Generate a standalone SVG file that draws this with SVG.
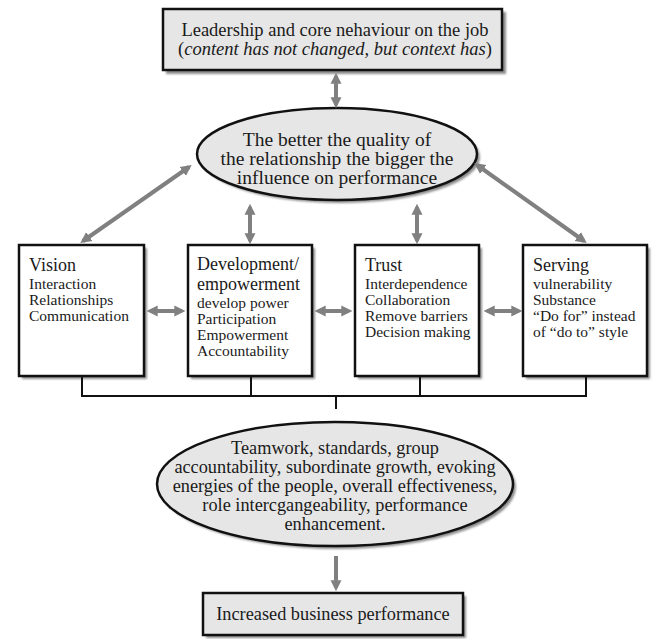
<svg xmlns="http://www.w3.org/2000/svg" width="654" height="639" viewBox="0 0 654 639">
<style>
text{font-family:"Liberation Serif","Times New Roman",serif;fill:#1a1a1a}
.box{fill:#fff;stroke:#111;stroke-width:2.5}
.gbox{fill:#e6e6e6;stroke:#111;stroke-width:2.5}
.shd{fill:#8c8c8c;filter:url(#blur)}
.arr{stroke:#808080;stroke-width:4;fill:none;marker-end:url(#ah);marker-start:url(#ah)}
.arr1{stroke:#808080;stroke-width:4;fill:none;marker-end:url(#ah)}
.brk{stroke:#111;stroke-width:2;fill:none}
.hd{font-size:18px}
.bd{font-size:15.5px}
.c{text-anchor:middle}
</style>
<defs>
<filter id="blur" x="-10%" y="-10%" width="120%" height="120%"><feGaussianBlur stdDeviation="1"/></filter>
<marker id="ah" viewBox="0 0 10 10" refX="7" refY="5" markerWidth="11" markerHeight="12" markerUnits="userSpaceOnUse" orient="auto-start-reverse">
<path d="M0,0 L10,5 L0,10 z" fill="#808080"/>
</marker>
</defs>

<g id="top-box">
<rect class="shd" x="166" y="12" width="340" height="62"/>
<rect class="gbox" x="163" y="9" width="339" height="61"/>
<text class="c" x="335" y="36" font-size="18.5">Leadership and core nehaviour on the job</text>
<text class="c" x="335" y="55" font-size="18.5">(<tspan font-style="italic">content has not changed, but context has</tspan>)</text>
</g>

<g id="quality-ellipse">
<ellipse class="shd" cx="340" cy="157" rx="140" ry="46"/>
<ellipse cx="337" cy="154" rx="140" ry="46" fill="#e6e6e6" stroke="#111" stroke-width="2.5"/>
<text class="c" x="337" y="146" font-size="19.5">The better the quality of</text>
<text class="c" x="337" y="165" font-size="19.5">the relationship the bigger the</text>
<text class="c" x="337" y="184" font-size="19.5">influence on performance</text>
</g>

<g id="vision">
<rect class="shd" x="22" y="248" width="125" height="131"/>
<rect class="box" x="19" y="245" width="125" height="131"/>
<text class="hd" x="29" y="271">Vision</text>
<text class="bd" x="29" y="289">Interaction</text>
<text class="bd" x="29" y="305">Relationships</text>
<text class="bd" x="29" y="321">Communication</text>
</g>

<g id="development">
<rect class="shd" x="191" y="248" width="124" height="131"/>
<rect class="box" x="188" y="245" width="124" height="131"/>
<text class="hd" x="197" y="270">Development/</text>
<text class="hd" x="197" y="289.5">empowerment</text>
<text class="bd" x="197" y="307.5">develop power</text>
<text class="bd" x="197" y="323.5">Participation</text>
<text class="bd" x="197" y="340">Empowerment</text>
<text class="bd" x="197" y="356">Accountability</text>
</g>

<g id="trust">
<rect class="shd" x="358" y="248" width="124" height="131"/>
<rect class="box" x="355" y="245" width="124" height="131"/>
<text class="hd" x="365" y="271">Trust</text>
<text class="bd" x="365" y="289">Interdependence</text>
<text class="bd" x="365" y="305">Collaboration</text>
<text class="bd" x="365" y="321">Remove barriers</text>
<text class="bd" x="365" y="337">Decision making</text>
</g>

<g id="serving">
<rect class="shd" x="526" y="248" width="124" height="131"/>
<rect class="box" x="523" y="245" width="124" height="131"/>
<text class="hd" x="533" y="271">Serving</text>
<text class="bd" x="533" y="289">vulnerability</text>
<text class="bd" x="533" y="305">Substance</text>
<text class="bd" x="533" y="321">“Do for” instead</text>
<text class="bd" x="533" y="337">of “do to” style</text>
</g>

<g id="outcomes-ellipse">
<ellipse class="shd" cx="338" cy="487" rx="178" ry="62"/>
<ellipse cx="335" cy="484" rx="178" ry="62" fill="#e6e6e6" stroke="#111" stroke-width="2.5"/>
<text class="c" x="335" y="454" font-size="18.3">Teamwork, standards, group</text>
<text class="c" x="335" y="473" font-size="18.3">accountability, subordinate growth, evoking</text>
<text class="c" x="335" y="492" font-size="18.3">energies of the people, overall effectiveness,</text>
<text class="c" x="335" y="511" font-size="18.3">role intercgangeability, performance</text>
<text class="c" x="335" y="530" font-size="18.3">enhancement.</text>
</g>

<g id="result-box">
<rect class="shd" x="206" y="596" width="260" height="42"/>
<rect class="gbox" x="203" y="593" width="260" height="42"/>
<text class="c" x="333" y="620" font-size="18.3">Increased business performance</text>
</g>

<g id="connectors">
<line class="arr" x1="336" y1="76" x2="336" y2="105"/>
<line class="arr" x1="189" y1="167" x2="83" y2="241"/>
<line class="arr" x1="477" y1="165" x2="584" y2="241"/>
<line class="arr" x1="250" y1="207" x2="250" y2="241"/>
<line class="arr" x1="417" y1="207" x2="417" y2="241"/>
<line class="arr" x1="150" y1="311" x2="182" y2="311"/>
<line class="arr" x1="318" y1="311" x2="349" y2="311"/>
<line class="arr" x1="487" y1="311" x2="519" y2="311"/>
<path class="brk" d="M82,377 V396 M251,377 V396 M420,377 V396 M586,377 V396 M81,396 H587 M336,396 V409"/>
<line class="arr1" x1="336" y1="556" x2="336" y2="588"/>
</g>
</svg>
